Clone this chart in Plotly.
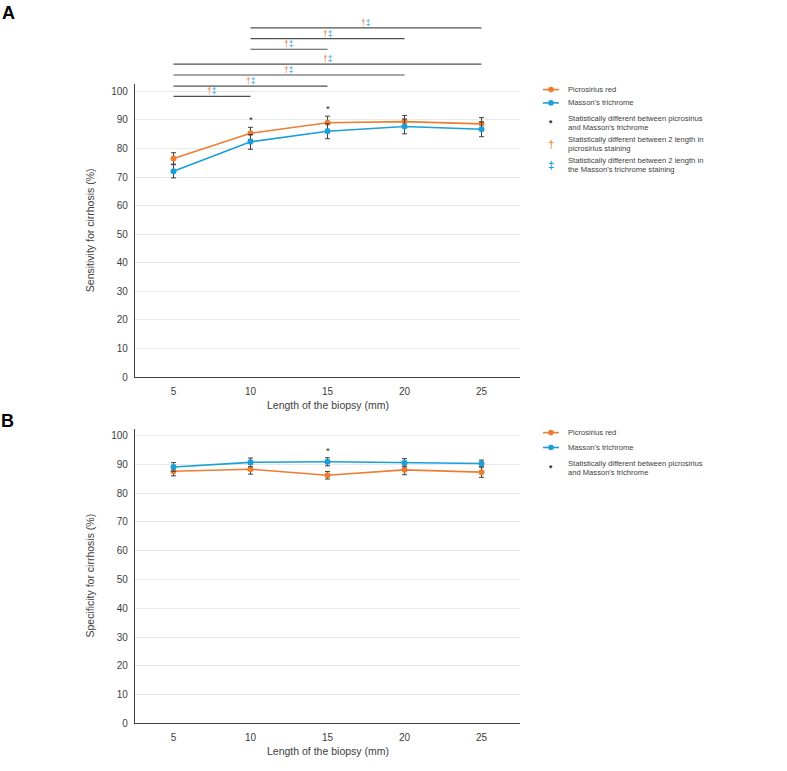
import plotly.graph_objects as go

# ---------------- data ----------------
lengths = [5, 10, 15, 20, 25]
x_ticks = [5, 10, 15, 20, 25]
y_ticks = list(range(0, 101, 10))

sens_picro = [76.5, 85.3, 89.0, 89.4, 88.6]
sens_picro_err = [2.0, 2.1, 2.3, 2.1, 2.2]
sens_masson = [72.0, 82.3, 86.0, 87.7, 86.7]
sens_masson_err = [2.3, 2.6, 2.6, 2.6, 2.6]

spec_picro = [87.6, 88.3, 86.2, 88.1, 87.3]
spec_picro_err = [1.6, 1.7, 1.3, 1.7, 1.8]
spec_masson = [89.1, 90.7, 90.9, 90.6, 90.3]
spec_masson_err = [1.5, 1.5, 1.4, 1.4, 1.2]

sens_star_at = [10, 15]
spec_star_at = [15]

sens_pairs = [(5, 10), (5, 15), (5, 20), (5, 25), (10, 15), (10, 20), (10, 25)]

series_names = ["Picrosirius red", "Masson's trichrome"]
star_text = ["Statistically different between picrosirius", "and Masson's trichrome"]
dagger_text = ["Statistically different between 2 length in", "picrosirius staining"]
ddagger_text = ["Statistically different between 2 length in", "the Masson's trichrome staining"]

# ---------------- layout helpers ----------------
W, H = 787, 771
def px(x): return x / W
def py(y): return 1 - y / H

ORANGE = "#ED7D31"
BLUE = "#1A9FD9"
DARK = "#404040"
BARC = "#505050"
FONT = "Arial, Liberation Sans, sans-serif"

pair_levels = [98.2, 101.8, 105.7, 109.5, 114.7, 118.4, 122.2]

fig = go.Figure()

def add_series(y, err, color, xa, ya, name):
    fig.add_trace(go.Scatter(
        x=lengths, y=y, mode="lines+markers", name=name,
        line=dict(color=color, width=1.6),
        marker=dict(color=color, size=6),
        error_y=dict(type="data", array=err, visible=True, color=DARK,
                     thickness=1, width=2.5),
        xaxis=xa, yaxis=ya, showlegend=False, hoverinfo="skip"))

add_series(sens_picro, sens_picro_err, ORANGE, "x", "y", series_names[0])
add_series(sens_masson, sens_masson_err, BLUE, "x", "y", series_names[1])
add_series(spec_picro, spec_picro_err, ORANGE, "x2", "y2", series_names[0])
add_series(spec_masson, spec_masson_err, BLUE, "x2", "y2", series_names[1])

annotations = []

# significance bars (panel A, overlay axis sharing the same scale)
for (a, b), lvl in zip(sens_pairs, pair_levels):
    fig.add_trace(go.Scatter(
        x=[a, b], y=[lvl, lvl], mode="lines",
        line=dict(color=BARC, width=1.2),
        xaxis="x3", yaxis="y3", showlegend=False, hoverinfo="skip"))
    annotations.append(dict(
        x=(a + b) / 2, y=lvl, xref="x3", yref="y3", showarrow=False,
        yanchor="bottom", yshift=-2,
        text=f"<span style='color:{ORANGE}'>†</span><span style='color:{BLUE}'>‡</span>",
        font=dict(size=8.5, family=FONT)))

# asterisks
def add_stars(xs, ups, downs, xref, yref):
    for xv in xs:
        i = lengths.index(xv)
        top = max(ups[0][i] + ups[1][i], downs[0][i] + downs[1][i])
        annotations.append(dict(
            x=xv, y=top, xref=xref, yref=yref, showarrow=False,
            yanchor="bottom", yshift=0, text="*",
            font=dict(size=9.5, family=FONT, color="#222222")))

add_stars(sens_star_at, (sens_picro, sens_picro_err), (sens_masson, sens_masson_err), "x", "y")
add_stars(spec_star_at, (spec_picro, spec_picro_err), (spec_masson, spec_masson_err), "x2", "y2")

# axis titles
for yc, txt in [(232, "Sensitivity for cirrhosis (%)"), (580, "Specificity for cirrhosis (%)")]:
    annotations.append(dict(x=px(90), y=py(yc), xref="paper", yref="paper",
                            text=txt, textangle=-90, showarrow=False,
                            xanchor="center", yanchor="middle",
                            font=dict(size=10.5, family=FONT, color=DARK)))
for yc in [408, 757]:
    annotations.append(dict(x=px(327.5), y=py(yc), xref="paper", yref="paper",
                            text="Length of the biopsy (mm)", showarrow=False,
                            xanchor="center", yanchor="middle",
                            font=dict(size=10.5, family=FONT, color=DARK)))

# panel letters
annotations.append(dict(x=px(8), y=py(13.5), xref="paper", yref="paper", text="<b>A</b>",
                        showarrow=False, xanchor="center", yanchor="middle",
                        font=dict(size=18, family=FONT, color="black")))
annotations.append(dict(x=px(7), y=py(424), xref="paper", yref="paper", text="<b>B</b>",
                        showarrow=False, xanchor="center", yanchor="middle",
                        font=dict(size=18, family=FONT, color="black")))

# custom legends
shapes = []
LEG_TX = 566
LEG_FS = 7.6

def legend_series(yc, color, label):
    shapes.append(dict(type="line", xref="paper", yref="paper",
                       x0=px(543), x1=px(559), y0=py(yc), y1=py(yc),
                       line=dict(color=color, width=1.6)))
    r = 2.8
    shapes.append(dict(type="circle", xref="paper", yref="paper",
                       x0=px(551 - r), x1=px(551 + r), y0=py(yc + r), y1=py(yc - r),
                       fillcolor=color, line=dict(color=color, width=0)))
    annotations.append(dict(x=px(LEG_TX), y=py(yc), xref="paper", yref="paper",
                            text=label, showarrow=False, xanchor="left", yanchor="middle",
                            font=dict(size=LEG_FS, family=FONT, color=DARK)))

def legend_symbol(y1, y2, sym, color, lines, symsize=9):
    annotations.append(dict(x=px(551), y=py((y1 + y2) / 2 if sym != "*" else y1), xref="paper", yref="paper",
                            text=sym, showarrow=False, xanchor="center", yanchor="middle",
                            font=dict(size=symsize, family=FONT, color=color)))
    for yy, t in zip((y1, y2), lines):
        annotations.append(dict(x=px(LEG_TX), y=py(yy), xref="paper", yref="paper",
                                text=t, showarrow=False, xanchor="left", yanchor="middle",
                                font=dict(size=LEG_FS, family=FONT, color=DARK)))

# legend A
legend_series(90.3, ORANGE, series_names[0])
legend_series(103.7, BLUE, series_names[1])
legend_symbol(119.3, 128.7, "<b>*</b>", "#222222", star_text, 8.5)
legend_symbol(140.3, 150.0, "†", ORANGE, dagger_text, 11.5)
legend_symbol(161.3, 170.7, "<b>‡</b>", BLUE, ddagger_text, 11.5)
# legend B
legend_series(436.0, ORANGE, series_names[0])
legend_series(451.0, BLUE, series_names[1])
legend_symbol(466.7, 476.0, "<b>*</b>", "#222222", star_text, 8.5)

xdom = [px(135), px(520)]
common_x = dict(range=[2.5, 27.5], tickvals=x_ticks, showline=True, linecolor=DARK,
                linewidth=1.3, showgrid=False, zeroline=False, ticks="",
                ticklabelstandoff=5,
                tickfont=dict(size=10, family=FONT, color=DARK), domain=xdom)
common_y = dict(tickvals=y_ticks, showline=True, linecolor=DARK, linewidth=1.3,
                showgrid=True, gridcolor="#E8E8E8", gridwidth=1, zeroline=False,
                ticks="", ticklabelstandoff=4,
                tickfont=dict(size=10, family=FONT, color=DARK))

fig.update_layout(
    width=W, height=H,
    margin=dict(l=0, r=0, t=0, b=0),
    paper_bgcolor="white", plot_bgcolor="rgba(0,0,0,0)",
    font=dict(family=FONT, color=DARK),
    xaxis=dict(**common_x, anchor="y"),
    yaxis=dict(**common_y, anchor="x", domain=[py(380), py(85)], range=[0, (380 - 85) / 2.88]),
    xaxis2=dict(**common_x, anchor="y2"),
    yaxis2=dict(**common_y, anchor="x2", domain=[py(729), py(432)], range=[0, (729 - 432) / 2.9]),
    xaxis3=dict(range=[2.5, 27.5], domain=xdom, visible=False, anchor="y3"),
    yaxis3=dict(range=[0, (380 - 15) / 2.88], domain=[py(380), py(15)], visible=False, anchor="x3"),
    annotations=annotations,
    shapes=shapes,
    showlegend=False,
)

fig.write_html("out.html")
